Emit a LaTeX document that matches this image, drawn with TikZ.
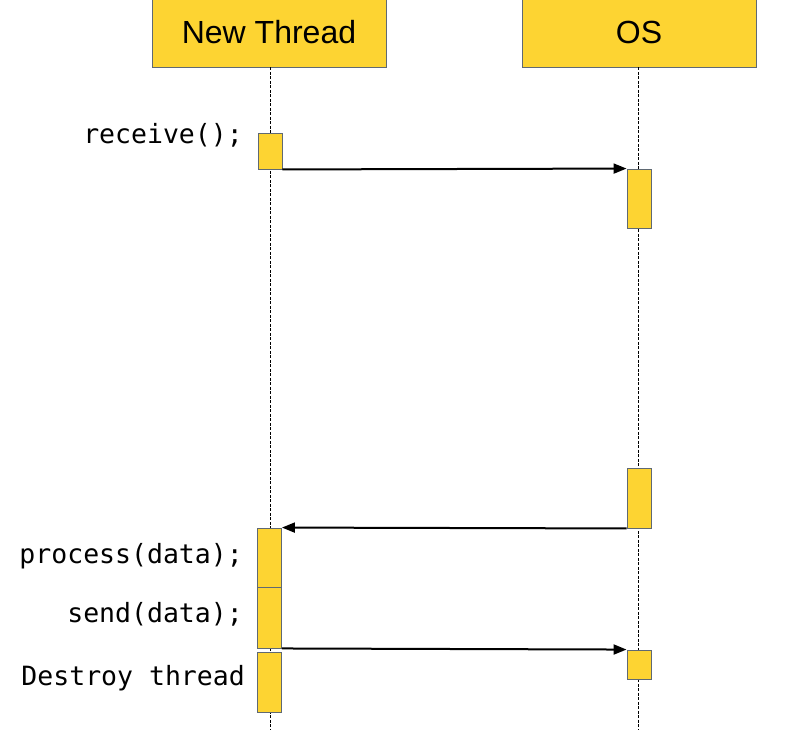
\documentclass[tikz,border=0pt]{standalone}
\usepackage{fontspec}
\setmainfont{Liberation Sans}
\newfontfamily\codefont{DejaVu Sans Mono}
\usetikzlibrary{arrows.meta}
\definecolor{actfill}{RGB}{253,212,50}
\definecolor{actedge}{RGB}{95,105,115}
\begin{document}
\begin{tikzpicture}[x=1pt,y=-1pt,
  header/.style={draw=actedge,fill=actfill,line width=0.9pt,minimum width=234pt,minimum height=70pt,inner sep=0pt,font=\fontsize{32}{37}\selectfont},
  actbox/.style={draw=actedge,fill=actfill,line width=0.9pt,minimum width=24pt,inner sep=0pt},
  lifeline/.style={line width=0.7pt,dash pattern=on 3pt off 1.5pt},
  msg/.style={line width=2pt,-{Triangle[length=13pt,width=10pt]}},
  codelabel/.style={anchor=east,inner sep=0pt,font=\codefont\fontsize{26.5}{30}\selectfont}]
\useasboundingbox (0,0) rectangle (789,729);
% headers
\node[header] (nt) at (269,32) {New Thread};
\node[header] (os) at (639,32) {OS};
% lifelines
\coordinate (ntend) at (270,729);
\coordinate (osend) at (638,729);
\draw[lifeline] (nt.south) ++(1,0) -- (ntend);
\draw[lifeline] (os.south) ++(-1,0) -- (osend);
% activations
\node[actbox,minimum height=36pt] (a1) at (270,151) {};
\node[actbox,minimum height=59pt] (b1) at (639,198.5) {};
\node[actbox,minimum height=60pt] (b2) at (639,498) {};
\node[actbox,minimum height=59pt] (a2) at (269.5,557.5) {};
\node[actbox,minimum height=61pt] (a3) at (269.5,617.5) {};
\node[actbox,minimum height=60pt] (a4) at (269.5,682) {};
\node[actbox,minimum height=29pt] (b3) at (639,664.5) {};
% messages
\draw[msg] (a1.south east) -- (b1.north west);
\draw[msg] (b2.south west) -- (a2.north east);
\draw[msg] (a3.south east) -- (b3.north west);
% labels
\node[codelabel] (l1) at (243,135) {receive();};
\node[codelabel] (l2) at (243,556) {process(data);};
\node[codelabel] (l3) at (243,614) {send(data);};
\node[codelabel] (l4) at (245,678) {Destroy thread};
\end{tikzpicture}
\end{document}
